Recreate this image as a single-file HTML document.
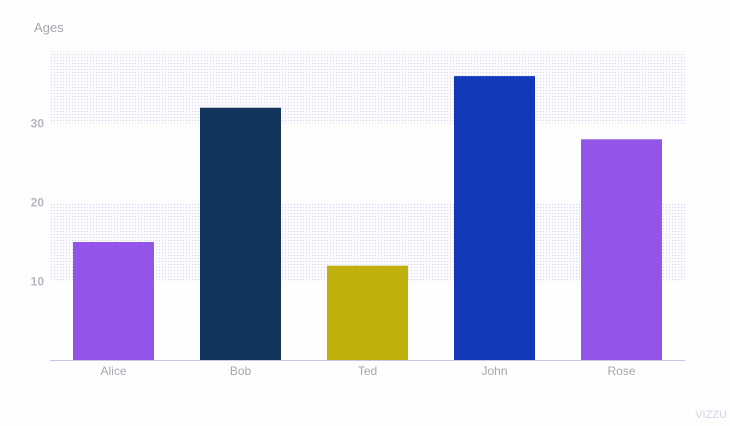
<!DOCTYPE html>
<html><head><meta charset="utf-8"><style>
body{margin:0;background:#fefefe;font-family:"Liberation Sans",sans-serif}
</style></head><body>
<svg id="c" width="730" height="421" xmlns="http://www.w3.org/2000/svg">
<defs><pattern id="dots" width="3" height="3" patternUnits="userSpaceOnUse"><rect width="3" height="3" fill="#fbfbfe"/><rect width="1" height="1" fill="#d6d4ee"/></pattern></defs>
<text x="34" y="32" font-size="13" fill="#a6a6b0">Ages</text>
<g id="g"></g>
<text x="727" y="418" font-size="11" fill="#d4d2ea" text-anchor="end">VIZZU</text>
</svg>
<script>
const categories=["Alice","Bob","Ted","John","Rose"];
const ages=[15,32,12,36,28];
const colors=["#9355e8","#12355b","#c0b00e","#1239b9","#9355e8"];
const ticks=[10,20,30];
const bands=[[10,20],[30,39.1]];
const ns="http://www.w3.org/2000/svg",g=document.getElementById('g');
const x0=50,x1=685,yb=360.5,k=7.9;
const y=v=>yb-v*k, slot=(x1-x0)/categories.length;
function el(t,a){const e=document.createElementNS(ns,t);for(const n in a)e.setAttribute(n,a[n]);g.appendChild(e);return e;}
bands.forEach(b=>{const e=el('rect',{x:x0,y:y(b[1]),width:x1-x0,height:(b[1]-b[0])*k,fill:'url(#dots)'});

});
ticks.forEach(t=>{const e=el('text',{x:44,y:y(t)+4,'font-size':12,'font-weight':'bold',fill:'#b6b6c2','text-anchor':'end'});e.textContent=t;

});
categories.forEach((c,i)=>{const cx=x0+slot*(i+0.5);
const r=el('rect',{x:cx-40.5,y:y(ages[i]),width:81,height:ages[i]*k,fill:colors[i]});


const t=el('text',{x:cx,y:375,'font-size':12,fill:'#a6a6b0','text-anchor':'middle'});t.textContent=c;

});
const a=el('line',{x1:x0,x2:x1,y1:yb,y2:yb,stroke:'#c8c6e6','stroke-width':1});


</script>
</body></html>
